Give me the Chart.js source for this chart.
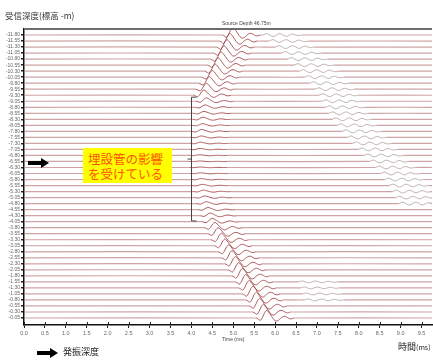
<!DOCTYPE html>
<html>
<head>
<meta charset="utf-8">
<script src="https://cdn.jsdelivr.net/npm/chart.js@4.4.1/dist/chart.umd.min.js"></script>
<style>
  body { margin: 0; background: #fff; }
  #wrap { position: relative; width: 433px; height: 360px; overflow: hidden; font-family: "Noto Sans CJK JP", sans-serif; }
  #sonicChart { position: absolute; left: 0; top: 0; }
  .lbl { position: absolute; white-space: nowrap; line-height: 1; }
  .small { font-family: "Liberation Sans", Arial, sans-serif; color: #444; font-size: 5px; }
  #note { position: absolute; left: 83px; top: 148px; width: 89px; height: 35px; background: #ffff00;
          color: #ff5000; font-size: 12.5px; line-height: 15px; padding: 3px 0 0 5px; box-sizing: border-box; }
</style>
</head>
<body>
<div id="wrap">
  <canvas id="sonicChart" width="433" height="360"></canvas>
  <div class="lbl" style="left:5px;top:11px;font-size:8.5px;color:#333;">受信深度(標高 -m)</div>
  <div class="lbl small" style="left:222px;top:21px;">Source Depth 46.75m</div>
  <div class="lbl small" style="left:222px;top:337px;">Time (ms)</div>
  <div class="lbl" style="left:398px;top:342px;font-size:9px;color:#222;">時間<span style="font-size:7px">(ms)</span></div>
  <div id="note">埋設管の影響<br>を受けている</div>
  <svg style="position:absolute;left:28px;top:158px" width="22" height="10">
    <rect x="0" y="3" width="14" height="4" fill="#000"/><polygon points="13,0 21,5 13,10" fill="#000"/>
  </svg>
  <svg style="position:absolute;left:37px;top:348px" width="22" height="10">
    <rect x="0" y="3" width="14" height="4" fill="#000"/><polygon points="13,0 21,5 13,10" fill="#000"/>
  </svg>
  <div class="lbl" style="left:63px;top:347px;font-size:9px;color:#222;">発振深度</div>
</div>
<script>
// 受信深度 (標高 -m)
const depths = [-11.80, -11.55, -11.30, -11.05, -10.80, -10.55, -10.30, -10.05,
                -9.80, -9.55, -9.30, -9.05, -8.80, -8.55, -8.30, -8.05,
                -7.80, -7.55, -7.30, -7.05, -6.80, -6.55, -6.30, -6.05,
                -5.80, -5.55, -5.30, -5.05, -4.80, -4.55, -4.30, -4.05,
                -3.80, -3.55, -3.30, -3.05, -2.80, -2.55, -2.30, -2.05,
                -1.80, -1.55, -1.30, -1.05, -0.80, -0.55, -0.30, -0.05];
const xTicks = [0, 0.5, 1, 1.5, 2, 2.5, 3, 3.5, 4, 4.5, 5, 5.5, 6, 6.5, 7, 7.5, 8, 8.5, 9, 9.5];
const xMax = 9.75;

// 初動のピーク時刻 (ms) と振幅
const firstPeak = [4.99, 4.92, 4.85, 4.78, 4.71, 4.64, 4.57, 4.50, 4.43, 4.36, 4.30,
                   4.36, 4.33, 4.30, 4.28, 4.27, 4.25, 4.24, 4.22, 4.21, 4.20, 4.20,
                   4.21, 4.22, 4.24, 4.26, 4.29, 4.32, 4.36, 4.40, 4.45, 4.50,
                   4.56, 4.64, 4.72, 4.80, 4.89, 4.97, 5.05, 5.13, 5.22, 5.30,
                   5.38, 5.47, 5.55, 5.63, 5.72, 5.80];
const firstAmp = [0.32, 0.32, 0.31, 0.31, 0.30, 0.30, 0.29, 0.28, 0.27, 0.25, 0.22,
                  0.14, 0.10, 0.08, 0.09, 0.07, 0.08, 0.06, 0.05, 0.04, 0.03, 0.02,
                  0.02, 0.03, 0.04, 0.05, 0.06, 0.07, 0.08, 0.09, 0.11, 0.14,
                  0.22, 0.25, 0.27, 0.28, 0.29, 0.30, 0.30, 0.30, 0.31, 0.31,
                  0.31, 0.32, 0.32, 0.32, 0.32, 0.32];
// 後続波の開始時刻 (ms) と振幅
const secondOnset = [5.70, 5.85, 6.00, 6.15, 6.30, 6.45, 6.58, 6.70, 6.82, 6.95, 7.05,
                     7.12, 7.20, 7.28, 7.36, 7.48, 7.60, 7.72, 7.85, 7.98, 8.12, 8.25,
                     8.40, 8.52, 8.62, 8.72, 8.80, 8.88, 8.95, null, null, null,
                     null, null, null, null, null, null, null, null, null, 6.55,
                     6.60, 6.65, 6.70, null, null, null];
const secondAmp = [0.06, 0.06, 0.06, 0.06, 0.06, 0.06, 0.06, 0.06, 0.06, 0.06, 0.06,
                   0.06, 0.06, 0.06, 0.06, 0.06, 0.06, 0.06, 0.06, 0.06, 0.06, 0.06,
                   0.06, 0.06, 0.06, 0.06, 0.06, 0.06, 0.06, 0, 0, 0,
                   0, 0, 0, 0, 0, 0, 0, 0, 0, 0.04,
                   0.04, 0.04, 0.04, 0, 0, 0];

// 波形の形 (0.05 ms 間隔)
const sampleStep = 0.05;
const mainWavelet = [0, -0.15, -0.3, 0.1, 0.7, 1.0, 0.75, 0.35, -0.05, -0.35, -0.4, -0.2, 0.05, 0.2, 0.2, 0.05, -0.1, -0.1, 0];
const mainPeakOffset = 0.25;
const codaWavelet = [0, 0.6, 1, 0.4, -0.5, -1, -0.6, 0.3, 0.9, 0.7, -0.1, -0.8, -0.8, 0, 0.6, 0.5, -0.1, -0.4, -0.2, 0];

// 注記の位置
const sourceDepth = -6.5;
const bracketTime = 3.99, bracketFrom = -9.22, bracketTo = -4.08, bracketMid = -6.65;

const baseColor = 'rgba(185,125,125,0.7)';
const waveColor = '#9a3434';
const codaColor = 'rgba(110,85,85,0.55)';

function buildTrace(i) {
    const pts = [{ x: 0, y: depths[i] }];
    const events = [{ onset: firstPeak[i] - mainPeakOffset, amp: firstAmp[i], shape: mainWavelet, kind: 1 }];
    if (secondOnset[i] != null) events.push({ onset: secondOnset[i], amp: secondAmp[i], shape: codaWavelet, kind: 2 });
    events.forEach(ev => {
        ev.shape.forEach((s, k) => {
            const t = ev.onset + k * sampleStep;
            if (t < xMax) pts.push({ x: t, y: depths[i] - ev.amp * s, w: k > 0 ? ev.kind : 0 });
        });
    });
    pts.push({ x: xMax, y: depths[i] });
    return pts;
}

const datasets = depths.map((d, i) => {
    const pts = buildTrace(i);
    return {
        data: pts,
        borderWidth: 1.2,
        pointRadius: 0,
        tension: 0.25,
        borderColor: baseColor,
        segment: {
            borderColor: ctx => {
                const w = pts[ctx.p1DataIndex].w;
                return w === 1 ? waveColor : w === 2 ? codaColor : baseColor;
            },
            borderWidth: ctx => pts[ctx.p1DataIndex].w ? 0.8 : 1.2
        }
    };
});

// 枠線・ブラケットの描画
const extras = {
    id: 'extras',
    afterDraw(chart) {
        const c = chart.ctx, a = chart.chartArea;
        const xs = chart.scales.x, ys = chart.scales.y;
        c.save();
        c.strokeStyle = '#6d6d6d';
        c.lineWidth = 2;
        c.beginPath(); c.moveTo(a.left, a.top); c.lineTo(a.right, a.top); c.stroke();
        // x 軸の目盛 (上側)
        c.strokeStyle = '#222';
        c.lineWidth = 1;
        xTicks.forEach(v => {
            const px = Math.round(xs.getPixelForValue(v)) + 0.5;
            c.beginPath(); c.moveTo(px, a.bottom - 3); c.lineTo(px, a.bottom); c.stroke();
        });
        // ブラケット
        const bx = Math.round(xs.getPixelForValue(bracketTime)) + 0.5;
        const y1 = ys.getPixelForValue(bracketFrom), y2 = ys.getPixelForValue(bracketTo);
        const ym = ys.getPixelForValue(bracketMid);
        c.strokeStyle = '#444';
        c.lineWidth = 1;
        c.beginPath();
        c.moveTo(bx + 5, y1); c.lineTo(bx, y1); c.lineTo(bx, y2); c.lineTo(bx + 5, y2);
        c.moveTo(bx, ym); c.lineTo(bx - 4, ym);
        c.stroke();
        c.restore();
    }
};

const sonicChart = new Chart(document.getElementById('sonicChart'), {
    type: 'line',
    data: { datasets },
    options: {
        responsive: false,
        animation: false,
        layout: { padding: { top: 29, right: 1, left: 0, bottom: 0 } },
        plugins: { legend: { display: false }, tooltip: { enabled: false } },
        scales: {
            x: {
                type: 'linear', min: 0, max: xMax,
                afterFit: s => { s.height = 35; },
                afterBuildTicks: s => { s.ticks = xTicks.map(v => ({ value: v })); },
                border: { display: true, color: '#111', width: 1.5 },
                grid: { drawOnChartArea: false, tickLength: 3, color: '#222' },
                ticks: { padding: 2, maxRotation: 0, autoSkip: false, color: '#666',
                         font: { size: 5.5, family: 'Liberation Sans' },
                         callback: v => v.toFixed(1) }
            },
            y: {
                type: 'linear', reverse: true, min: -12.05, max: 0.24,
                afterFit: s => { s.width = 24; },
                afterBuildTicks: s => { s.ticks = depths.map(v => ({ value: v })); },
                border: { display: true, color: '#111', width: 1.5 },
                grid: { drawOnChartArea: false, tickLength: 3, color: '#222', lineWidth: 1.5 },
                ticks: { padding: 1, autoSkip: false, color: '#666',
                         font: { size: 5, family: 'Liberation Sans' },
                         callback: v => v.toFixed(2) }
            }
        }
    },
    plugins: [extras]
});
</script>
</body>
</html>
